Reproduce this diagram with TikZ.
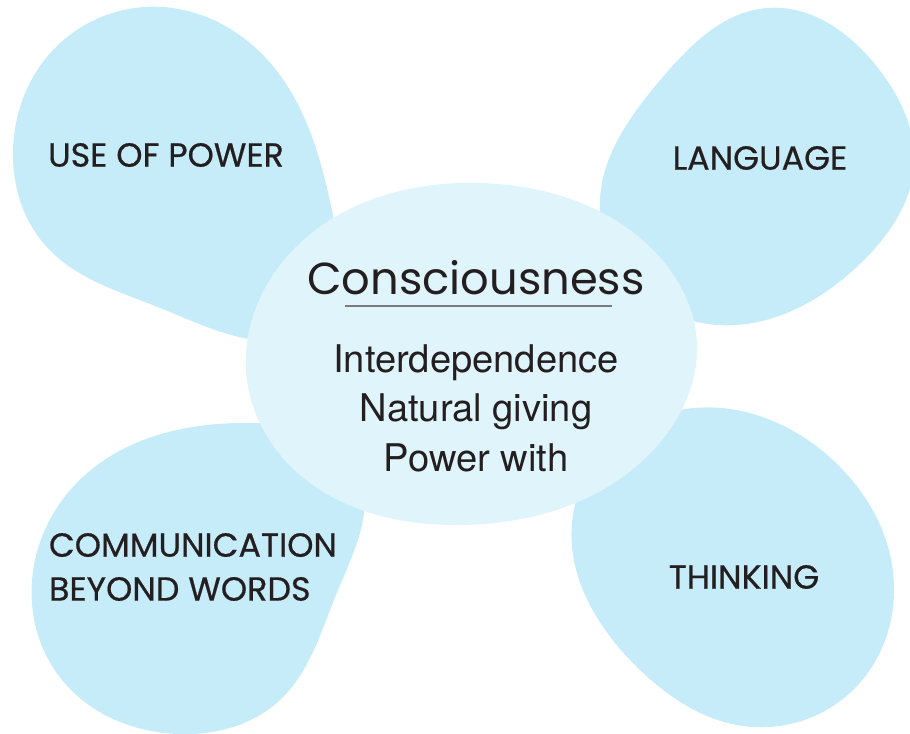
\documentclass[tikz,border=0pt]{standalone}
\usepackage{fontspec}
\setmainfont{TeX Gyre Heros}
\newfontfamily\petalfont[FakeBold=0.6]{Poppins}
\newfontfamily\titlefont{Poppins}
\usepackage{xcolor}
\usepackage{tikz}
\usetikzlibrary{hobby}

\definecolor{petalblue}{HTML}{C7ECF9}
\definecolor{coreblue}{HTML}{E0F4FB}
\definecolor{inkdark}{HTML}{231F20}
\definecolor{rulegrey}{HTML}{7A7A7C}

\tikzset{
  petal/.style={fill=petalblue, draw=none},
  core/.style={fill=coreblue, draw=none},
  petallabel/.style={text=inkdark, font=\petalfont\fontsize{19}{25}\selectfont, inner sep=0pt},
  corelabel/.style={text=inkdark, font=\fontsize{21.7}{28.4}\selectfont, inner sep=0pt, align=center},
}

\begin{document}
\begin{tikzpicture}[x=0.02cm, y=-0.02cm]
      \useasboundingbox (0,0) rectangle (910,734);

      % the four petals
      \fill[petal] plot[closed hobby] coordinates {(163,7) (272,65) (333,215) (318,322) (170,312) (45,245) (13,150) (55,48)};
      \fill[petal] plot[closed hobby] coordinates {(767,8) (878,68) (914,165) (862,262) (697,322) (600,210) (662,78)};
      \fill[petal] plot[closed hobby] coordinates {(253,423) (357,470) (338,590) (280,700) (177,734) (62,680) (32,580) (85,475)};
      \fill[petal] plot[closed hobby] coordinates {(667,413) (835,462) (893,572) (855,688) (743,726) (640,670) (575,505)};

      % centre
      \fill[core] plot[closed hobby] coordinates {(480,183) (640,238) (697,345) (662,440) (460,525) (300,475) (247,380) (298,245)};

      \node[petallabel] (power) at (166,155) {USE OF POWER};
      \node[petallabel] (lang) at (760,158) {LANGUAGE};
      \node[petallabel, align=left] (comm) at (193,567) {COMMUNICATION\\BEYOND WORDS};
      \node[petallabel] (think) at (744,577) {THINKING};

      \node[text=inkdark, font=\titlefont\fontsize{25.5}{30}\selectfont, inner sep=0pt] (title) at (476,278) {Consciousness};
      \coordinate (ruleL) at (345,306);
      \coordinate (ruleR) at (612,306);
      \draw[rulegrey, line width=0.8pt] (ruleL) -- (ruleR);

      \node[corelabel, anchor=base] (inter) at (476,372) {Interdependence};
      \node[corelabel, anchor=base] (giving) at (476,421) {Natural giving};
      \node[corelabel, anchor=base] (pwith) at (476,471) {Power with};
    \end{tikzpicture}
\end{document}
